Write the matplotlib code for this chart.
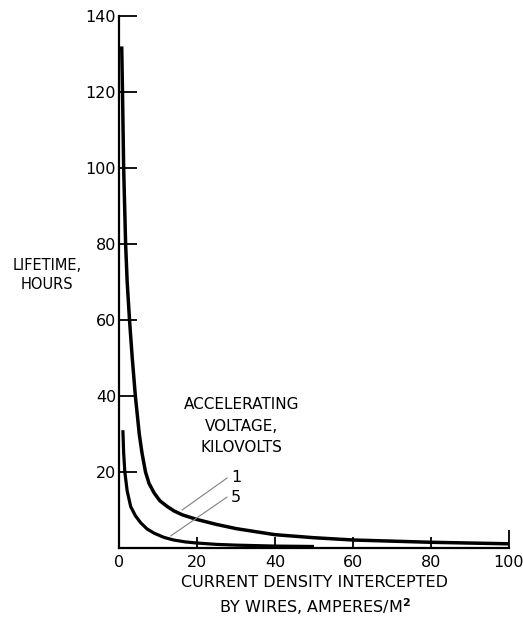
import matplotlib.pyplot as plt

# current density (A/m^2) vs lifetime (hours)
density_1kv = [0.7, 0.9, 1.2, 1.7, 2.1, 2.7, 3.4, 4.2, 5.2, 5.9, 6.8, 7.7, 9.0,
               10.5, 12.4, 14.2, 16.3, 20.0, 25.0, 30.0, 40.0, 50.0, 60.0, 70.0,
               80.0, 90.0, 100.0]
life_1kv = [132, 120, 100, 80, 70, 60, 50, 40, 30, 25, 20, 17.0, 14.5,
            12.4, 10.9, 9.7, 8.7, 7.5, 6.2, 5.1, 3.5, 2.7, 2.1, 1.8,
            1.5, 1.3, 1.1]

density_5kv = [1.0, 1.2, 1.5, 2.1, 3.0, 4.2, 5.6, 7.2, 9.0, 11.5, 14.0, 17.0,
               20.0, 25.0, 30.0, 40.0, 50.0]
life_5kv = [31, 25, 20, 15, 10.9, 8.5, 6.6, 5.0, 3.9, 2.8, 2.1, 1.6,
            1.3, 0.95, 0.75, 0.5, 0.4]

x_ticks = [0, 20, 40, 60, 80, 100]
y_ticks = [20, 40, 60, 80, 100, 120, 140]

fig = plt.figure(figsize=(5.23, 6.18), dpi=100)
ax = fig.add_axes([0.2275, 0.1133, 0.7457, 0.8608])

ax.plot(density_1kv, life_1kv, color='black', lw=2.5, solid_capstyle='butt',
        solid_joinstyle='round')
ax.plot(density_5kv, life_5kv, color='black', lw=2.3, solid_capstyle='butt',
        solid_joinstyle='round')

ax.set_xlim(0, 100)
ax.set_ylim(0, 140)
ax.spines['top'].set_visible(False)
ax.spines['right'].set_visible(False)
ax.spines['left'].set_linewidth(1.6)
ax.spines['bottom'].set_linewidth(1.6)

ax.set_xticks(x_ticks)
ax.set_xticklabels(['0', '20', '40', '60', '80', '100'])
ax.set_yticks(y_ticks)
ax.set_yticklabels([str(v) for v in y_ticks])
ax.tick_params(axis='y', direction='in', length=13, width=1.3, pad=2, labelsize=11.5)
ax.tick_params(axis='x', direction='in', length=8, width=1.3, pad=5, labelsize=11.5)
ax.xaxis.get_major_ticks()[-1].tick1line.set_markersize(13)

# leader lines to the curves
ax.plot([27.7, 16.2], [18.4, 10.0], color='gray', lw=0.8)
ax.plot([27.7, 13.3], [13.4, 3.2], color='gray', lw=0.8)
ax.text(28.7, 18.6, '1', fontsize=11.5, va='center', ha='left')
ax.text(28.7, 13.4, '5', fontsize=11.5, va='center', ha='left')

ax.text(31.5, 32, 'ACCELERATING\nVOLTAGE,\nKILOVOLTS', fontsize=11,
        ha='center', va='center', linespacing=1.55)

fig.text(0.09, 0.555, 'LIFETIME,\nHOURS', fontsize=10.5, ha='center', va='center',
         linespacing=1.35)
fig.text(0.602, 0.058, 'CURRENT DENSITY INTERCEPTED', fontsize=11.5,
         ha='center', va='center')
fig.text(0.602, 0.018, 'BY WIRES, AMPERES/M$^{\\mathbf{2}}$', fontsize=11.5,
         ha='center', va='center')

fig.savefig('out.png', dpi=100)
